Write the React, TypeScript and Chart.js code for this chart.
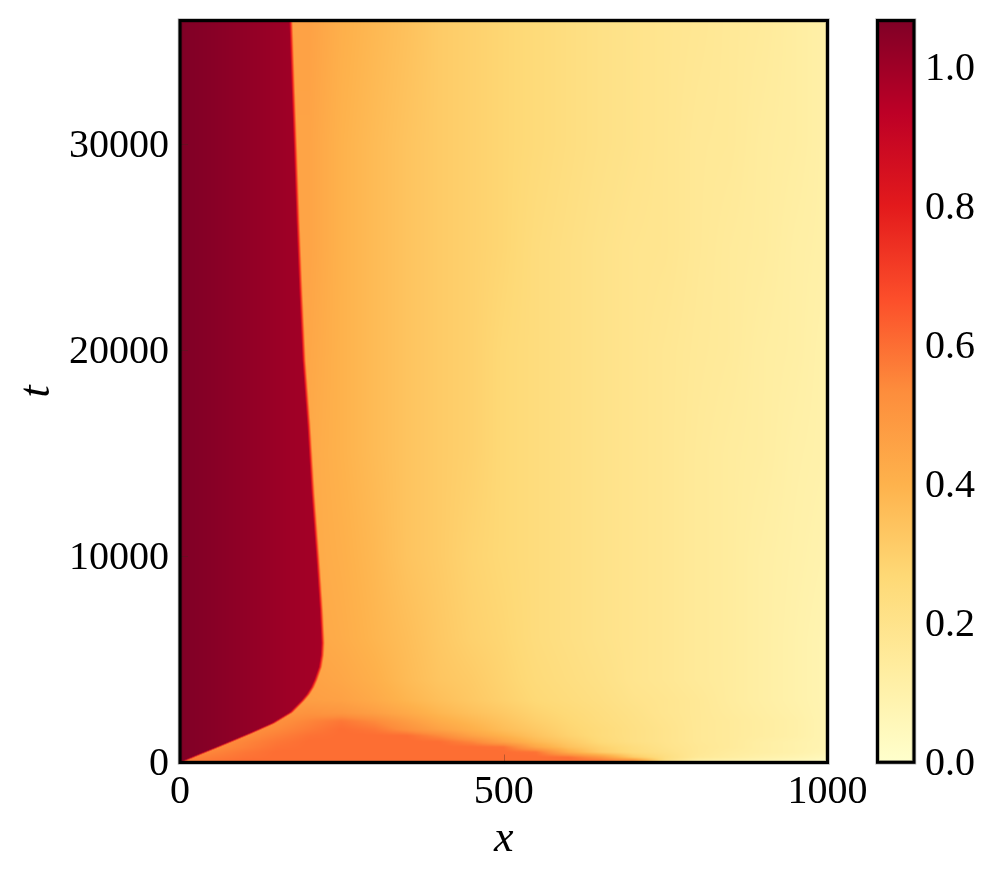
import React, { useEffect, useRef } from "react";
import { Chart, registerables } from "chart.js";

Chart.register(...registerables);

const xTicks = [0, 500, 1000];
const tTicks = [0, 10000, 20000, 30000];
const barTicks = [0, 0.2, 0.4, 0.6, 0.8, 1.0];
const vMax = 1.067;

const mapStops = [0, 0.125, 0.25, 0.375, 0.5, 0.625, 0.75, 0.875, 1];
const mapColors = ["#ffffcc", "#ffeda0", "#fed976", "#feb24c", "#fd8d3c", "#fc4e2a", "#e31a1c", "#bd0026", "#800026"];

// Leading front: the position x of the sharp edge at each time t
const frontT = [0, 100, 400, 730, 1070, 1400, 1900, 2430, 3000, 3300, 3650, 4000, 4630, 5200, 5800, 6500, 7400, 9825, 13080, 16280, 19530, 23070, 26320, 29570, 32775, 36000];
const frontX = [0, 8, 31, 57, 83, 108, 144, 172, 190, 198, 205, 210, 217, 220, 221, 220, 218.6, 213.4, 205.7, 199.5, 191.8, 186.6, 182.4, 178.8, 175, 171.5];

// Plateau values behind the front
const plateauX = [0, 50, 100, 170, 225];
const plateauV = [1.067, 1.05, 1.03, 1.0, 0.985];

// Field ahead of the front, one row for each time
const fieldX = [0, 50, 100, 150, 200, 250, 300, 350, 400, 450, 500, 550, 600, 650, 700, 750, 800, 850, 900, 950, 1000];
const fieldT = [0, 100, 250, 500, 750, 1000, 1300, 1600, 2000, 2400, 3000, 4000, 6000, 10000, 15000, 20000, 25000, 30000, 36000];
const fieldV = [
  [0.58, 0.6, 0.6, 0.6, 0.6, 0.6, 0.6, 0.6, 0.6, 0.6, 0.6, 0.6, 0.6, 0.57, 0.45, 0.2, 0.08, 0.05, 0.04, 0.03, 0.02],
  [0.56, 0.58, 0.6, 0.6, 0.6, 0.6, 0.6, 0.6, 0.6, 0.6, 0.6, 0.6, 0.6, 0.58, 0.52, 0.22, 0.11, 0.09, 0.07, 0.05, 0.03],
  [0.54, 0.57, 0.59, 0.6, 0.6, 0.6, 0.6, 0.6, 0.6, 0.6, 0.6, 0.6, 0.6, 0.5, 0.32, 0.23, 0.16, 0.13, 0.1, 0.08, 0.05],
  [0.52, 0.55, 0.58, 0.6, 0.6, 0.6, 0.6, 0.6, 0.6, 0.6, 0.6, 0.59, 0.42, 0.31, 0.25, 0.21, 0.17, 0.14, 0.12, 0.1, 0.07],
  [0.5, 0.53, 0.56, 0.59, 0.6, 0.6, 0.6, 0.6, 0.6, 0.6, 0.59, 0.44, 0.35, 0.29, 0.24, 0.2, 0.17, 0.15, 0.12, 0.1, 0.08],
  [0.5, 0.52, 0.55, 0.58, 0.6, 0.6, 0.6, 0.6, 0.6, 0.55, 0.46, 0.38, 0.32, 0.26, 0.22, 0.195, 0.165, 0.15, 0.12, 0.1, 0.08],
  [0.5, 0.51, 0.53, 0.56, 0.59, 0.6, 0.6, 0.6, 0.54, 0.46, 0.4, 0.34, 0.29, 0.25, 0.22, 0.195, 0.165, 0.15, 0.13, 0.11, 0.08],
  [0.49, 0.5, 0.52, 0.54, 0.57, 0.6, 0.58, 0.52, 0.46, 0.41, 0.36, 0.32, 0.28, 0.25, 0.22, 0.195, 0.165, 0.15, 0.13, 0.11, 0.08],
  [0.48, 0.49, 0.5, 0.52, 0.55, 0.58, 0.54, 0.48, 0.42, 0.38, 0.34, 0.3, 0.27, 0.24, 0.215, 0.19, 0.165, 0.15, 0.13, 0.11, 0.08],
  [0.47, 0.47, 0.48, 0.49, 0.51, 0.5, 0.47, 0.43, 0.385, 0.35, 0.32, 0.285, 0.26, 0.235, 0.21, 0.185, 0.165, 0.145, 0.125, 0.105, 0.08],
  [0.47, 0.47, 0.47, 0.47, 0.47, 0.46, 0.43, 0.39, 0.355, 0.325, 0.295, 0.265, 0.245, 0.225, 0.2, 0.185, 0.165, 0.14, 0.12, 0.1, 0.08],
  [0.46, 0.46, 0.46, 0.46, 0.46, 0.44, 0.41, 0.37, 0.335, 0.315, 0.285, 0.255, 0.235, 0.215, 0.19, 0.175, 0.155, 0.14, 0.12, 0.1, 0.08],
  [0.44, 0.44, 0.44, 0.44, 0.44, 0.42, 0.39, 0.36, 0.325, 0.295, 0.275, 0.245, 0.225, 0.205, 0.19, 0.175, 0.155, 0.14, 0.12, 0.1, 0.08],
  [0.43, 0.43, 0.43, 0.43, 0.43, 0.41, 0.38, 0.34, 0.315, 0.285, 0.265, 0.245, 0.225, 0.205, 0.19, 0.175, 0.155, 0.14, 0.12, 0.105, 0.09],
  [0.43, 0.43, 0.43, 0.43, 0.43, 0.4, 0.37, 0.34, 0.315, 0.295, 0.265, 0.245, 0.225, 0.205, 0.19, 0.175, 0.155, 0.14, 0.13, 0.11, 0.1],
  [0.44, 0.44, 0.44, 0.44, 0.44, 0.4, 0.37, 0.34, 0.315, 0.295, 0.265, 0.245, 0.225, 0.205, 0.19, 0.175, 0.16, 0.15, 0.13, 0.12, 0.1],
  [0.45, 0.45, 0.45, 0.45, 0.45, 0.4, 0.37, 0.34, 0.315, 0.295, 0.275, 0.245, 0.225, 0.205, 0.19, 0.185, 0.165, 0.15, 0.14, 0.12, 0.11],
  [0.45, 0.45, 0.45, 0.45, 0.45, 0.4, 0.37, 0.34, 0.315, 0.295, 0.275, 0.255, 0.235, 0.215, 0.2, 0.185, 0.165, 0.16, 0.14, 0.13, 0.11],
  [0.46, 0.46, 0.46, 0.46, 0.46, 0.41, 0.38, 0.35, 0.315, 0.295, 0.275, 0.255, 0.235, 0.215, 0.2, 0.185, 0.175, 0.16, 0.15, 0.13, 0.11],
];

const tickFont = { family: "'Liberation Serif'", size: 40 };
const titleFont = { family: "'Liberation Serif'", size: 44, style: "italic" as const };

function hexRgb(h: string) {
  return [1, 3, 5].map((i) => parseInt(h.slice(i, i + 2), 16));
}
const mapRgb = mapColors.map(hexRgb);

function colourAt(v: number) {
  const f = Math.max(0, Math.min(1, v / vMax));
  let i = 0;
  while (i < mapStops.length - 2 && f > mapStops[i + 1]) i++;
  const k = (f - mapStops[i]) / (mapStops[i + 1] - mapStops[i]);
  return mapRgb[i].map((c, n) => c + (mapRgb[i + 1][n] - c) * k);
}

function bracket(knots: number[], q: number): [number, number] {
  let i = 0;
  while (i < knots.length - 2 && q > knots[i + 1]) i++;
  const k = (q - knots[i]) / (knots[i + 1] - knots[i]);
  return [i, Math.max(0, Math.min(1, k))];
}

function lookup(knots: number[], vals: number[], q: number) {
  const [i, k] = bracket(knots, q);
  return vals[i] + (vals[i + 1] - vals[i]) * k;
}

// Paints the table the way imshow with a smooth interpolation does, through the chart's scales.
const heatPlugin = {
  id: "heat",
  beforeDatasetsDraw(chart: any) {
    const { ctx, chartArea: a, scales } = chart;
    const w = Math.ceil(a.right - a.left);
    const h = Math.ceil(a.bottom - a.top);
    const off = document.createElement("canvas");
    off.width = w;
    off.height = h;
    const oc = off.getContext("2d")!;
    const img = oc.createImageData(w, h);
    const xOfCol = [] as number[];
    for (let c = 0; c < w; c++) xOfCol.push(scales.x.getValueForPixel(a.left + c + 0.5));
    for (let r = 0; r < h; r++) {
      const t = scales.y.getValueForPixel(a.top + r + 0.5);
      const [ri, rk] = bracket(fieldT, t);
      const front = scales.x.getPixelForValue(lookup(frontT, frontX, t));
      for (let c = 0; c < w; c++) {
        const x = xOfCol[c];
        const [ci, ck] = bracket(fieldX, x);
        const lo = fieldV[ri][ci] + (fieldV[ri][ci + 1] - fieldV[ri][ci]) * ck;
        const hi = fieldV[ri + 1][ci] + (fieldV[ri + 1][ci + 1] - fieldV[ri + 1][ci]) * ck;
        let v = lo + (hi - lo) * rk;
        const d = a.left + c + 0.5 - front;
        if (d < 2) {
          const p = lookup(plateauX, plateauV, x);
          const m = d <= -2 ? 1 : (2 - d) / 4;
          v = v + (p - v) * m;
        }
        const rgb = colourAt(v);
        const o = (r * w + c) * 4;
        img.data[o] = rgb[0];
        img.data[o + 1] = rgb[1];
        img.data[o + 2] = rgb[2];
        img.data[o + 3] = 255;
      }
    }
    oc.putImageData(img, 0, 0);
    ctx.drawImage(off, a.left, a.top, a.right - a.left, a.bottom - a.top);
  },
  afterDatasetsDraw(chart: any) {
    const { ctx, chartArea: a, scales } = chart;
    ctx.save();
    ctx.strokeStyle = "rgba(60,40,30,0.35)";
    ctx.lineWidth = 1;
    ctx.beginPath();
    xTicks.slice(1, -1).forEach((v) => {
      const p = Math.round(scales.x.getPixelForValue(v)) + 0.5;
      ctx.moveTo(p, a.bottom);
      ctx.lineTo(p, a.bottom - 8);
    });
    tTicks.slice(1).forEach((v) => {
      const p = Math.round(scales.y.getPixelForValue(v)) + 0.5;
      ctx.moveTo(a.left, p);
      ctx.lineTo(a.left + 8, p);
    });
    ctx.stroke();
    ctx.restore();
  },
};

const framePlugin = {
  id: "frame",
  afterDraw(chart: any) {
    const { ctx, chartArea: a } = chart;
    ctx.save();
    ctx.strokeStyle = "rgba(0,0,0,0.28)";
    ctx.lineWidth = 4.5;
    ctx.strokeRect(a.left, a.top, a.right - a.left, a.bottom - a.top);
    ctx.strokeStyle = "#000";
    ctx.lineWidth = 3;
    ctx.strokeRect(a.left, a.top, a.right - a.left, a.bottom - a.top);
    ctx.restore();
  },
};

function fixBox(size: number, vertical: boolean) {
  return (s: any) => {
    if (vertical) s.width = size;
    else s.height = size;
    s.paddingLeft = s.paddingRight = s.paddingTop = s.paddingBottom = 0;
  };
}

export default function App() {
  const mainRef = useRef<HTMLCanvasElement>(null);
  const barRef = useRef<HTMLCanvasElement>(null);

  useEffect(() => {
    const cells: { x: number; y: number; v: number }[] = [];
    fieldT.forEach((t, r) => fieldX.forEach((x, c) => cells.push({ x, y: t, v: fieldV[r][c] })));
    const main = new Chart(mainRef.current!, {
      type: "scatter",
      data: {
        datasets: [
          { label: "field", data: cells, pointRadius: 0, showLine: false },
          { label: "front", data: frontT.map((t, i) => ({ x: frontX[i], y: t })), pointRadius: 0, showLine: false },
        ],
      },
      options: {
        animation: false,
        responsive: false,
        events: [],
        layout: { padding: { top: 20.5, right: 168.5, left: 0, bottom: 0 } },
        plugins: { legend: { display: false }, tooltip: { enabled: false } },
        scales: {
          x: {
            type: "linear",
            min: 0,
            max: 1000,
            grid: { display: false, drawTicks: false },
            border: { display: false },
            afterBuildTicks: (s: any) => { s.ticks = xTicks.map((value) => ({ value })); },
            afterFit: fixBox(115.5, false),
            ticks: {
              color: "#000",
              font: tickFont,
              padding: 6,
              maxRotation: 0,
              autoSkip: false,
              callback: (v: any) => String(v),
            },
            title: { display: true, text: "x", color: "#000", font: titleFont, padding: { top: 0, bottom: 12.6 } },
          },
          y: {
            type: "linear",
            min: 0,
            max: 36000,
            grid: { display: false, drawTicks: false },
            border: { display: false },
            afterBuildTicks: (s: any) => { s.ticks = tTicks.map((value) => ({ value })); },
            afterFit: fixBox(180, true),
            ticks: {
              color: "#000",
              font: tickFont,
              padding: 11,
              labelOffset: 2,
              autoSkip: false,
              callback: (v: any) => String(v),
            },
            title: { display: true, text: "t", color: "#000", font: titleFont, padding: { top: 11, bottom: 0 } },
          },
        },
      },
      plugins: [heatPlugin, framePlugin],
    } as any);

    const bar = new Chart(barRef.current!, {
      type: "bar",
      data: {
        labels: ["colour"],
        datasets: [
          {
            label: "scale",
            data: [[0, vMax]],
            barPercentage: 1,
            categoryPercentage: 1,
            backgroundColor: (c: any) => {
              const area = c.chart.chartArea;
              if (!area) return mapColors[0];
              const y = c.chart.scales.y;
              const g = c.chart.ctx.createLinearGradient(0, y.getPixelForValue(0), 0, y.getPixelForValue(vMax));
              mapStops.forEach((s, i) => g.addColorStop(s, mapColors[i]));
              return g;
            },
          },
        ],
      },
      options: {
        animation: false,
        responsive: false,
        events: [],
        layout: { padding: { top: 20.5, left: 877.5, right: 0, bottom: 115.7 } },
        plugins: { legend: { display: false }, tooltip: { enabled: false } },
        scales: {
          x: { display: false },
          y: {
            type: "linear",
            position: "right",
            min: 0,
            max: vMax,
            grid: { display: false, drawTicks: false },
            border: { display: false },
            afterBuildTicks: (s: any) => { s.ticks = barTicks.map((value) => ({ value })); },
            afterFit: fixBox(82, true),
            ticks: {
              color: "#000",
              font: tickFont,
              padding: 11,
              labelOffset: 2,
              autoSkip: false,
              callback: (v: any) => Number(v).toFixed(1),
            },
          },
        },
      },
      plugins: [framePlugin],
    } as any);

    return () => {
      main.destroy();
      bar.destroy();
    };
  }, []);

  const layer: React.CSSProperties = { position: "absolute", left: 0, top: 0 };
  return (
    <div style={{ position: "fixed", left: 0, top: 0, width: 996, height: 878, background: "#fff" }}>
      <canvas ref={mainRef} width={996} height={878} style={layer} />
      <canvas ref={barRef} width={996} height={878} style={layer} />
    </div>
  );
}
